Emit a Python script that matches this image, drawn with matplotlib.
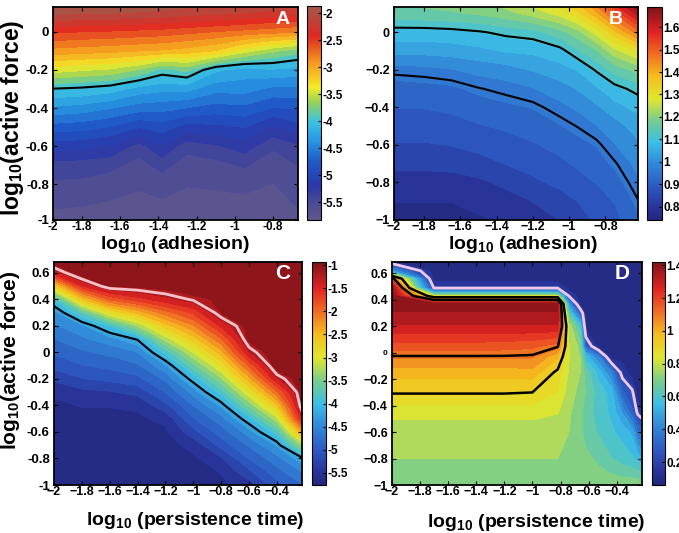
import numpy as np
import matplotlib
matplotlib.use("Agg")
import matplotlib.pyplot as plt
from matplotlib.colors import LinearSegmentedColormap, Normalize
from matplotlib.cm import ScalarMappable

plt.rcParams['font.family'] = ['Liberation Sans', 'DejaVu Sans']
plt.rcParams['font.weight'] = 'bold'
plt.rcParams['mathtext.fontset'] = 'custom'
plt.rcParams['mathtext.rm'] = 'Liberation Sans:bold'
plt.rcParams['mathtext.default'] = 'rm'
plt.rcParams['contour.negative_linestyle'] = 'solid'

# ---------------- data ----------------
# panel A : log10(adhesion) x log10(active force)
xa = [-1.95, -1.8, -1.65, -1.5, -1.38, -1.25, -1.1, -0.95, -0.8, -0.65]
ya = [-1.0, -0.9, -0.8, -0.7, -0.6, -0.5, -0.4, -0.3, -0.2, -0.1, 0.0, 0.1, 0.2]
za_cols = [  # one list per x column, bottom -> top
    [-5.75, -5.63, -5.53, -5.41, -5.1, -4.75, -4.38, -4.01, -3.44, -2.92, -2.5, -2.0, -1.7],
    [-5.75, -5.65, -5.54, -5.42, -5.12, -4.78, -4.42, -4.04, -3.5, -2.95, -2.53, -2.0, -1.7],
    [-5.75, -5.68, -5.6, -5.45, -5.2, -4.85, -4.5, -4.1, -3.55, -2.98, -2.55, -2.02, -1.7],
    [-5.75, -5.7, -5.65, -5.57, -5.4, -5.0, -4.6, -4.25, -3.7, -3.02, -2.58, -2.05, -1.72],
    [-5.72, -5.68, -5.62, -5.43, -5.2, -4.92, -4.62, -4.3, -3.9, -3.05, -2.6, -2.08, -1.75],
    [-5.73, -5.7, -5.66, -5.6, -5.43, -5.08, -4.68, -4.3, -3.8, -3.1, -2.65, -2.12, -1.78],
    [-5.73, -5.7, -5.65, -5.56, -5.36, -5.05, -4.75, -4.45, -4.15, -3.2, -2.7, -2.15, -1.8],
    [-5.73, -5.7, -5.63, -5.48, -5.25, -5.0, -4.72, -4.45, -4.25, -3.45, -2.75, -2.2, -1.82],
    [-5.73, -5.7, -5.67, -5.62, -5.47, -5.2, -4.85, -4.55, -4.2, -3.65, -2.8, -2.25, -1.85],
    [-5.7, -5.65, -5.58, -5.48, -5.35, -5.05, -4.82, -4.55, -4.25, -3.8, -2.85, -2.3, -1.85],
]
a_range = (-5.83, -1.87)
a_lines = [-4.0]
a_cticks = [-2, -2.5, -3, -3.5, -4, -4.5, -5, -5.5]

# panel B : log10(adhesion) x log10(active force)
xb = [-1.97, -1.8, -1.65, -1.5, -1.35, -1.2, -1.05, -0.95, -0.85, -0.75, -0.62]
yb = [-1.0, -0.9, -0.8, -0.7, -0.6, -0.5, -0.4, -0.3, -0.2, -0.1, 0.0, 0.1, 0.2]
zb_cols = [
    [0.77, 0.78, 0.8, 0.83, 0.855, 0.88, 0.9, 0.92, 0.96, 1.03, 1.08, 1.16, 1.19],
    [0.77, 0.78, 0.8, 0.83, 0.855, 0.88, 0.9, 0.925, 0.965, 1.03, 1.08, 1.165, 1.2],
    [0.77, 0.78, 0.8, 0.835, 0.86, 0.885, 0.905, 0.93, 0.975, 1.035, 1.085, 1.17, 1.21],
    [0.775, 0.79, 0.81, 0.845, 0.87, 0.895, 0.92, 0.948, 0.99, 1.045, 1.095, 1.18, 1.23],
    [0.785, 0.8, 0.83, 0.86, 0.88, 0.905, 0.93, 0.96, 1.0, 1.06, 1.11, 1.2, 1.26],
    [0.8, 0.82, 0.85, 0.875, 0.895, 0.915, 0.94, 0.975, 1.02, 1.065, 1.12, 1.23, 1.3],
    [0.82, 0.84, 0.87, 0.89, 0.91, 0.935, 0.965, 1.0, 1.04, 1.085, 1.16, 1.27, 1.36],
    [0.84, 0.86, 0.885, 0.905, 0.925, 0.952, 0.985, 1.02, 1.06, 1.13, 1.2, 1.32, 1.42],
    [0.865, 0.88, 0.9, 0.92, 0.94, 0.975, 1.01, 1.05, 1.105, 1.17, 1.27, 1.4, 1.53],
    [0.885, 0.9, 0.92, 0.945, 0.975, 1.0, 1.04, 1.085, 1.15, 1.24, 1.36, 1.5, 1.64],
    [0.93, 0.948, 0.97, 0.99, 1.01, 1.035, 1.07, 1.115, 1.19, 1.3, 1.47, 1.63, 1.76],
]
b_range = (0.74, 1.69)
b_lines = [0.95, 1.1]
b_cticks = [1.6, 1.5, 1.4, 1.3, 1.2, 1.1, 1.0, 0.9, 0.8]

# panel C : log10(persistence time) x log10(active force)
xc = [-2.0, -1.8, -1.6, -1.4, -1.2, -1.0, -0.8, -0.6, -0.4, -0.2]
yc = [-1.0, -0.9, -0.8, -0.7, -0.6, -0.5, -0.4, -0.3, -0.2, -0.1,
      0.0, 0.1, 0.2, 0.3, 0.4, 0.5, 0.6, 0.7]
zc_cols = [
    [-5.65, -5.65, -5.65, -5.65, -5.65, -5.63, -5.6, -5.52, -5.32, -5.09, -4.93, -4.76, -4.59, -4.45, -3.95, -2.75, -1.45, -0.95],
    [-5.65, -5.65, -5.65, -5.65, -5.65, -5.62, -5.55, -5.42, -5.17, -4.97, -4.79, -4.6, -4.4, -3.75, -2.63, -1.55, -1.0, -0.95],
    [-5.65, -5.65, -5.65, -5.65, -5.63, -5.6, -5.55, -5.38, -5.1, -4.9, -4.7, -4.44, -3.95, -2.93, -1.91, -1.12, -0.95, -0.95],
    [-5.65, -5.65, -5.65, -5.65, -5.63, -5.6, -5.52, -5.29, -5.02, -4.79, -4.56, -4.18, -3.34, -2.49, -1.63, -1.09, -0.95, -0.95],
    [-5.65, -5.65, -5.65, -5.63, -5.6, -5.5, -5.22, -4.95, -4.71, -4.39, -3.89, -3.27, -2.65, -2.03, -1.41, -1.03, -0.95, -0.95],
    [-5.65, -5.63, -5.6, -5.5, -5.23, -4.97, -4.75, -4.48, -4.1, -3.62, -3.14, -2.65, -2.17, -1.69, -1.22, -0.95, -0.95, -0.95],
    [-5.6, -5.55, -5.39, -5.08, -4.86, -4.64, -4.31, -3.87, -3.39, -2.92, -2.44, -1.96, -1.49, -1.12, -1.08, -0.95, -0.95, -0.95],
    [-5.45, -5.2, -4.95, -4.73, -4.45, -4.04, -3.5, -2.97, -2.43, -1.89, -1.36, -1.08, -1.05, -1.0, -0.95, -0.95, -0.95, -0.95],
    [-5.03, -4.83, -4.63, -4.33, -3.83, -3.22, -2.6, -1.99, -1.37, -1.01, -0.95, -0.95, -0.95, -0.95, -0.95, -0.95, -0.95, -0.95],
    [-4.75, -4.52, -4.18, -3.22, -2.23, -1.27, -0.95, -0.95, -0.95, -0.95, -0.95, -0.95, -0.95, -0.95, -0.95, -0.95, -0.95, -0.95],
]
c_range = (-5.76, -0.93)
c_black = [-4.2]
c_pink = [-1.25]
c_cticks = [-1, -1.5, -2, -2.5, -3, -3.5, -4, -4.5, -5, -5.5]

# panel D : log10(persistence time) x log10(active force)
xd = [-2.0, -1.7, -1.45, -1.2, -1.0, -0.82, -0.74, -0.66, -0.62, -0.53, -0.44, -0.36, -0.29, -0.25, -0.2]
yd = [-1.0, -0.8, -0.6, -0.45, -0.3, -0.15, -0.03, 0.05, 0.2, 0.3, 0.37, 0.43, 0.49, 0.56, 0.62, 0.7]
zd_rows = [  # one list per y row, bottom -> top
    [0.73, 0.73, 0.73, 0.73, 0.73, 0.73, 0.73, 0.73, 0.73, 0.72, 0.72, 0.72, 0.72, 0.72, 0.72],
    [0.74, 0.74, 0.74, 0.74, 0.74, 0.74, 0.74, 0.72, 0.7, 0.67, 0.63, 0.6, 0.58, 0.55, 0.52],
    [0.76, 0.76, 0.76, 0.76, 0.76, 0.76, 0.74, 0.7, 0.66, 0.62, 0.58, 0.55, 0.5, 0.35, 0.32],
    [0.82, 0.82, 0.82, 0.82, 0.82, 0.8, 0.75, 0.7, 0.66, 0.6, 0.56, 0.45, 0.3, 0.18, 0.1],
    [0.905, 0.905, 0.905, 0.905, 0.9, 0.85, 0.77, 0.72, 0.68, 0.6, 0.55, 0.3, 0.22, 0.08, 0.08],
    [0.99, 0.99, 0.99, 0.99, 1.0, 0.88, 0.79, 0.74, 0.66, 0.55, 0.4, 0.16, 0.08, 0.08, 0.08],
    [1.095, 1.095, 1.095, 1.095, 1.09, 0.98, 0.8, 0.74, 0.55, 0.4, 0.08, 0.08, 0.08, 0.08, 0.08],
    [1.17, 1.17, 1.17, 1.16, 1.15, 1.11, 0.8, 0.72, 0.3, 0.08, 0.08, 0.08, 0.08, 0.08, 0.08],
    [1.3, 1.3, 1.3, 1.3, 1.3, 1.3, 0.78, 0.6, 0.08, 0.08, 0.08, 0.08, 0.08, 0.08, 0.08],
    [1.36, 1.36, 1.36, 1.36, 1.36, 1.36, 0.62, 0.3, 0.08, 0.08, 0.08, 0.08, 0.08, 0.08, 0.08],
    [1.39, 1.38, 1.38, 1.38, 1.38, 1.38, 0.45, 0.08, 0.08, 0.08, 0.08, 0.08, 0.08, 0.08, 0.08],
    [1.4, 0.8, 0.8, 0.8, 0.8, 0.8, 0.19, 0.08, 0.08, 0.08, 0.08, 0.08, 0.08, 0.08, 0.08],
    [1.4, 0.19, 0.19, 0.19, 0.19, 0.19, 0.08, 0.08, 0.08, 0.08, 0.08, 0.08, 0.08, 0.08, 0.08],
    [1.15, 0.08, 0.08, 0.08, 0.08, 0.08, 0.08, 0.08, 0.08, 0.08, 0.08, 0.08, 0.08, 0.08, 0.08],
    [0.45, 0.08, 0.08, 0.08, 0.08, 0.08, 0.08, 0.08, 0.08, 0.08, 0.08, 0.08, 0.08, 0.08, 0.08],
    [0.08, 0.08, 0.08, 0.08, 0.08, 0.08, 0.08, 0.08, 0.08, 0.08, 0.08, 0.08, 0.08, 0.08, 0.08],
]
d_range = (0.06, 1.42)
d_black = [0.9, 1.1]
d_pink = [0.2]
d_cticks = [1.4, 1.2, 1.0, 0.8, 0.6, 0.4, 0.2]

# ---------------- colours ----------------
# jet as it came out in print: muted blues, dark red top
jet_print = LinearSegmentedColormap.from_list('jet_print', [
    (0.00, '#23287d'), (0.054, '#283296'), (0.157, '#2d5ac3'),
    (0.261, '#3287d7'), (0.364, '#3cbee6'), (0.468, '#78cd8c'),
    (0.571, '#e1e62d'), (0.675, '#f5be1e'), (0.778, '#f06e23'),
    (0.882, '#e12323'), (1.00, '#7d1419')])
# panel A map is a faded jet with brownish / greyish ends
faded = LinearSegmentedColormap.from_list('faded', [
    (0.00, '#5f588c'), (0.08, '#4b4b96'), (0.16, '#2a38a8'),
    (0.27, '#1f5ac8'), (0.37, '#2896e1'), (0.46, '#3cc3e1'),
    (0.55, '#96d25a'), (0.62, '#f5eb28'), (0.74, '#f5961e'),
    (0.86, '#e12823'), (1.00, '#a05a4b')])

W, H = 679, 533
fig = plt.figure(figsize=(W / 100, H / 100), dpi=100)


def box(l, t, r, b):
    return [l / W, 1 - b / H, (r - l) / W, (b - t) / H]


def lab(v, minus):
    s = ('%g' % v)
    return s.replace('-', minus)


def draw(axpos, cpos, x, y, z, rng, cmap, xlim, ylim):
    ax = fig.add_axes(box(*axpos))
    cax = fig.add_axes(box(*cpos))
    norm = Normalize(*rng)
    ax.contourf(x, y, z, levels=np.linspace(rng[0], rng[1], 25),
                cmap=cmap, norm=norm, extend='both')
    ax.set_xlim(*xlim)
    ax.set_ylim(*ylim)
    ax.tick_params(direction='in', top=True, right=True, length=3, width=0.8)
    for s in ax.spines.values():
        s.set_linewidth(1.3)
    cb = fig.colorbar(ScalarMappable(norm=norm, cmap=cmap), cax=cax)
    cb.outline.set_linewidth(0.8)
    cb.ax.tick_params(direction='in', length=2.5, width=0.8, pad=1, labelsize=8.5)
    return ax, cb


# ---------------- panel A ----------------
za = np.array(za_cols).T
axA, cbA = draw((53, 7, 298, 220), (307, 6, 321, 220), xa, ya, za,
                a_range, faded, (-1.95, -0.67), (-0.987, 0.13))
axA.contour(xa, ya, za, levels=a_lines, colors='k', linewidths=1.5, linestyles='solid')
axA.set_xticks([-1.95, -1.8, -1.6, -1.4, -1.2, -1.0, -0.8])
axA.set_xticklabels(['-2', '-1.8', '-1.6', '-1.4', '-1.2', '-1', '-0.8'], fontsize=8.5)
axA.set_yticks([-0.987, -0.8, -0.6, -0.4, -0.2, 0])
axA.set_yticklabels(['-1', '-0.8', '-0.6', '-0.4', '-0.2', '0'], fontsize=9.5)
axA.tick_params(axis='x', pad=1)
axA.tick_params(axis='y', pad=3)
cbA.set_ticks(a_cticks)
cbA.set_ticklabels([lab(v, '-') for v in a_cticks])
axA.set_xlabel(r'log$_{10}$ (adhesion)', fontsize=14, fontweight='bold')
axA.xaxis.set_label_coords(0.5, -0.117)
axA.xaxis.label.set_va('center')
axA.set_ylabel(r'log$_{10}$(active force)', fontsize=16.5, fontweight='bold')
axA.yaxis.set_label_coords(-0.165, 0.48)
axA.yaxis.label.set_va('center')
axA.text(0.939, 0.939, 'A', transform=axA.transAxes, color='white', fontsize=14,
         fontweight='bold', ha='center', va='center')

# ---------------- panel B ----------------
zb = np.array(zb_cols).T
axB, cbB = draw((394, 7, 638, 220), (647, 7, 662, 220), xb, yb, zb,
                b_range, jet_print, (-1.966, -0.62), (-1.0, 0.135))
axB.contour(xb, yb, zb, levels=b_lines, colors='k', linewidths=1.5, linestyles='solid')
axB.set_xticks([-1.966, -1.8, -1.6, -1.4, -1.2, -1.0, -0.8])
axB.set_xticklabels(['\u22122', '\u22121.8', '\u22121.6', '\u22121.4', '\u22121.2',
                     '\u22121', '\u22120.8'], fontsize=9)
axB.set_yticks([-1.0, -0.8, -0.6, -0.4, -0.2, 0])
axB.set_yticklabels(['\u22121', '\u22120.8', '\u22120.6', '\u22120.4', '\u22120.2', '0'],
                    fontsize=9)
axB.tick_params(axis='x', pad=1)
axB.tick_params(axis='y', pad=3)
cbB.set_ticks(b_cticks)
cbB.set_ticklabels([lab(v, '-') for v in b_cticks])
axB.set_xlabel(r'log$_{10}$ (adhesion)', fontsize=14, fontweight='bold')
axB.xaxis.set_label_coords(0.53, -0.117)
axB.xaxis.label.set_va('center')
axB.text(0.91, 0.939, 'B', transform=axB.transAxes, color='white', fontsize=14,
         fontweight='bold', ha='center', va='center')

# ---------------- panel C ----------------
zc = np.array(zc_cols).T
axC, cbC = draw((54, 262, 302, 485), (312, 262, 326, 485), xc, yc, zc,
                c_range, jet_print, (-2.0, -0.22), (-1.0, 0.683))
axC.contour(xc, yc, zc, levels=c_black, colors='k', linewidths=1.5, linestyles='solid')
axC.contour(xc, yc, zc, levels=c_pink, colors='#f3c3cb', linewidths=2, linestyles='solid')
xt = [-2, -1.8, -1.6, -1.4, -1.2, -1, -0.8, -0.6, -0.4]
yt = [-1, -0.8, -0.6, -0.4, -0.2, 0, 0.2, 0.4, 0.6]
axC.set_xticks(xt)
axC.set_xticklabels([lab(v, '\u2212') for v in xt], fontsize=9)
axC.set_yticks(yt)
axC.set_yticklabels([lab(v, '-') for v in yt], fontsize=9.5)
axC.tick_params(axis='x', pad=1)
axC.tick_params(axis='y', pad=3)
cbC.set_ticks(c_cticks)
cbC.set_ticklabels([lab(v, '-') for v in c_cticks])
axC.set_xlabel(r'log$_{10}$ (persistence time)', fontsize=14, fontweight='bold')
axC.xaxis.set_label_coords(0.57, -0.157)
axC.xaxis.label.set_va('center')
axC.set_ylabel(r'log$_{10}$(active force)', fontsize=15, fontweight='bold')
axC.yaxis.set_label_coords(-0.175, 0.56)
axC.yaxis.label.set_va('center')
axC.text(0.923, 0.95, 'C', transform=axC.transAxes, color='white', fontsize=15,
         fontweight='bold', ha='center', va='center')

# ---------------- panel D ----------------
zd = np.array(zd_rows)
axD, cbD = draw((392, 262, 642, 485), (652, 262, 665, 485), xd, yd, zd,
                d_range, jet_print, (-2.0, -0.22), (-1.0, 0.686))
axD.contour(xd, yd, zd, levels=d_black, colors='k', linewidths=1.8, linestyles='solid')
axD.contour(xd, yd, zd, levels=d_pink, colors='#f2c6e6', linewidths=2, linestyles='solid')
axD.set_xticks(xt)
axD.set_xticklabels([lab(v, '\u2212') for v in xt], fontsize=9)
axD.set_yticks(yt)
ylabD = axD.set_yticklabels([lab(v, '\u2212') for v in yt], fontsize=9)
ylabD[5].set_fontsize(6)
axD.tick_params(axis='x', pad=1)
axD.tick_params(axis='y', pad=3)
cbD.set_ticks(d_cticks)
cbD.set_ticklabels([lab(v, '-') for v in d_cticks])
axD.set_xlabel(r'log$_{10}$ (persistence time)', fontsize=14, fontweight='bold')
axD.xaxis.set_label_coords(0.576, -0.166)
axD.xaxis.label.set_va('center')
axD.text(0.92, 0.95, 'D', transform=axD.transAxes, color='white', fontsize=15,
         fontweight='bold', ha='center', va='center')

fig.savefig('out.png', dpi=100, facecolor='white')
